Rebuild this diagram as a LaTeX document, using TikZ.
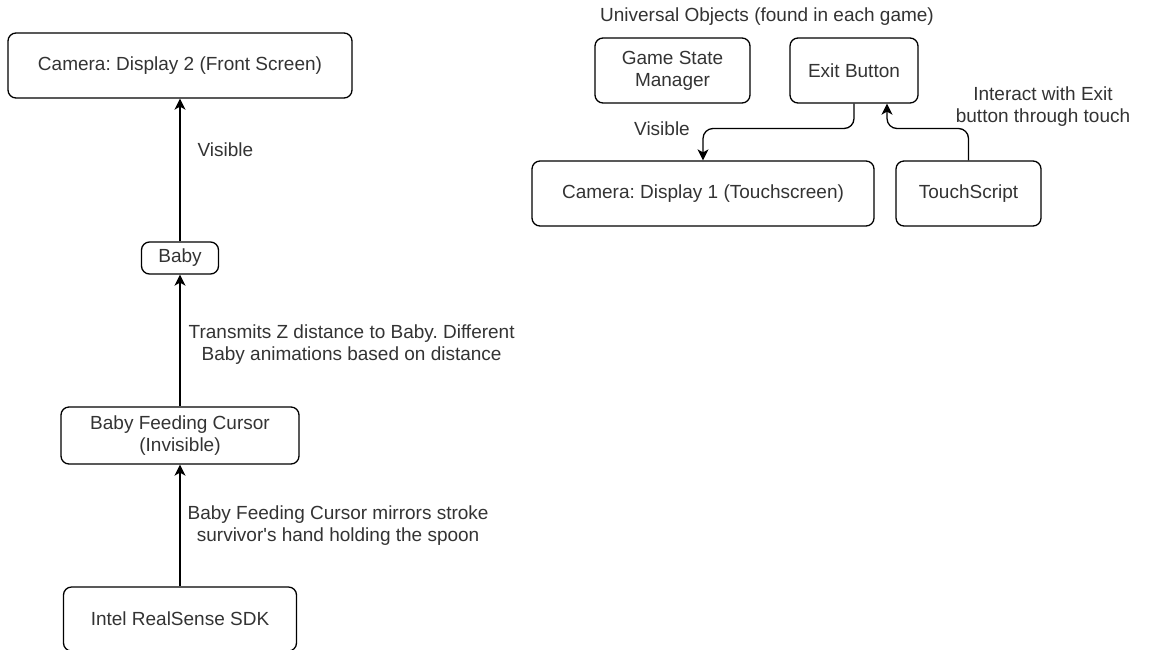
\documentclass[tikz,border=0pt]{standalone}
\usepackage{fontspec}
\setmainfont{Liberation Sans}
\usetikzlibrary{arrows.meta}
\definecolor{txtgray}{HTML}{333333}
\frenchspacing
\tikzset{
    obj/.style={draw, rounded corners=8pt, line width=1.3pt, align=center,
        text=txtgray, inner sep=2pt},
    lbl/.style={text=txtgray, align=center, inner sep=0pt},
    flow/.style={-{Stealth[length=11pt,width=11pt,inset=3pt]}, line width=1.3pt},
}
\begin{document}
\begin{tikzpicture}[x=1pt, y=-1pt, font=\fontsize{19}{22}\selectfont]
        \useasboundingbox (0,0) rectangle (1153,649);

        % left chain
        \node[obj, minimum width=344pt, minimum height=65pt] (cam2) at (180,65.5) {Camera: Display 2 (Front Screen)};
        \node[obj, minimum width=77pt, minimum height=32pt] (baby) at (180,258) {Baby};
        \node[obj, minimum width=238pt, minimum height=57pt] (cursor) at (180,435.5) {Baby Feeding Cursor\\(Invisible)};
        \node[obj, minimum width=233pt, minimum height=64pt] (sdk) at (180,619) {Intel RealSense SDK};

        % universal objects
        \node[lbl] (unilbl) at (767,17) {Universal Objects (found in each game)};
        \node[obj, minimum width=155pt, minimum height=65pt] (gsm) at (672.5,70.5) {Game State\\Manager};
        \node[obj, minimum width=128pt, minimum height=65pt] (exit) at (854,70.5) {Exit Button};
        \node[obj, minimum width=342pt, minimum height=65pt] (cam1) at (703,193.5) {Camera: Display 1 (Touchscreen)};
        \node[obj, minimum width=145pt, minimum height=65pt] (touch) at (968.5,193.5) {TouchScript};

        \path[flow] (sdk) edge node[lbl, right=7pt] {Baby Feeding Cursor mirrors stroke\\survivor\textquotesingle s hand holding the spoon} (cursor)
                    (cursor) edge node[lbl, right=8pt, yshift=-4pt] {Transmits Z distance to Baby. Different\\Baby animations based on distance} (baby)
                    (baby) edge node[lbl, pos=0.64, right=17pt] {Visible} (cam2);

        \draw[flow, rounded corners=10pt] (exit.south) |- (703,128.5) -- (cam1.north);
        \draw[flow, rounded corners=10pt] (touch.north) |- (887,128.5) -- ([xshift=33pt]exit.south);

        \node[lbl] (vislbl) at (662,129) {Visible};
        \node[lbl] (touchlbl) at (1043,107) {Interact with Exit\\button through touch};

    \end{tikzpicture}
\end{document}
